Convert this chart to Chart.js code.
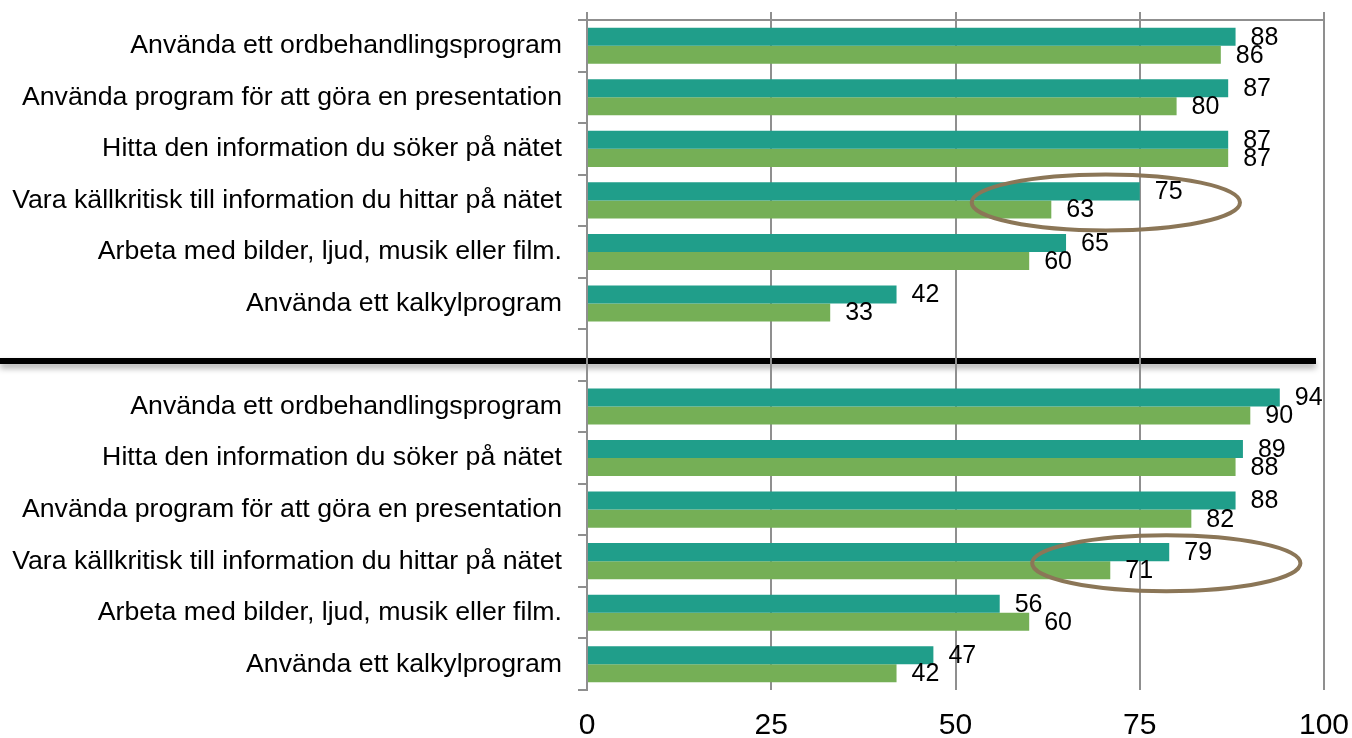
<!DOCTYPE html>
<html>
<head>
<meta charset="utf-8">
<script src="https://cdn.jsdelivr.net/npm/chart.js@4/dist/chart.umd.min.js"></script>
<style>
  html, body { margin: 0; padding: 0; background: #fff; }
  #wrap { position: relative; width: 1352px; height: 738px; }
</style>
</head>
<body>
<div id="wrap"><canvas id="chart"></canvas></div>
<script>
// Upper group
const topCategories = [
  "Använda ett ordbehandlingsprogram",
  "Använda program för att göra en presentation",
  "Hitta den information du söker på nätet",
  "Vara källkritisk till information du hittar på nätet",
  "Arbeta med bilder, ljud, musik eller film.",
  "Använda ett kalkylprogram"
];
const topSeriesA = [88, 87, 87, 75, 65, 42];
const topSeriesB = [86, 80, 87, 63, 60, 33];

// Lower group
const bottomCategories = [
  "Använda ett ordbehandlingsprogram",
  "Hitta den information du söker på nätet",
  "Använda program för att göra en presentation",
  "Vara källkritisk till information du hittar på nätet",
  "Arbeta med bilder, ljud, musik eller film.",
  "Använda ett kalkylprogram"
];
const bottomSeriesA = [94, 89, 88, 79, 56, 47];
const bottomSeriesB = [90, 88, 82, 71, 60, 42];

const xTicks = [0, 25, 50, 75, 100];

// circled rows: [x value of centre, row index in the combined list]
const circles = [[70.4, 3], [78.6, 10]];

// combined axis: top group, empty separator row, bottom group
const labels = [...topCategories, "", ...bottomCategories];
const valuesA = [...topSeriesA, null, ...bottomSeriesA];
const valuesB = [...topSeriesB, null, ...bottomSeriesB];
const sepIndex = topCategories.length;

const GRID = "#8f8f8f";
Chart.defaults.font.family = "'Liberation Sans', Arial, sans-serif";

// thick separator line with soft shadow, under the grid
const separator = {
  id: "separator",
  beforeDraw(chart) {
    const ctx = chart.ctx, y = chart.scales.y.getPixelForValue(sepIndex) + 6;
    ctx.save();
    ctx.shadowColor = "rgba(0,0,0,0.35)";
    ctx.shadowBlur = 6;
    ctx.shadowOffsetY = 4;
    ctx.fillStyle = "#000";
    ctx.fillRect(0, y - 3, chart.chartArea.right - 8, 6);
    ctx.restore();
  }
};

// value labels right of each bar
const valueLabels = {
  id: "valueLabels",
  afterDatasetsDraw(chart) {
    const ctx = chart.ctx;
    ctx.save();
    ctx.font = "25px 'Liberation Sans', Arial, sans-serif";
    ctx.fillStyle = "#000";
    ctx.textAlign = "left";
    ctx.textBaseline = "middle";
    chart.data.datasets.forEach((ds, di) => {
      chart.getDatasetMeta(di).data.forEach((bar, i) => {
        if (ds.data[i] == null) return;
        ctx.fillText(String(ds.data[i]), bar.x + 15, bar.y + 1);
      });
    });
    ctx.restore();
  }
};

// brown ellipses around the source-criticism rows
const ellipses = {
  id: "ellipses",
  afterDraw(chart) {
    const ctx = chart.ctx, x = chart.scales.x, y = chart.scales.y;
    ctx.save();
    ctx.strokeStyle = "#8b7657";
    ctx.lineWidth = 4;
    circles.forEach(([v, idx]) => {
      const cx = x.getPixelForValue(v);
      const rx = x.getPixelForValue(v + 18.2) - cx;
      const cy = y.getPixelForValue(idx) + 2;
      ctx.beginPath();
      ctx.ellipse(cx, cy, rx, 28, 0, 0, Math.PI * 2);
      ctx.stroke();
    });
    ctx.restore();
  }
};

const noPad = s => { s.paddingLeft = 0; s.paddingRight = 0; s.paddingTop = 0; s.paddingBottom = 0; };

new Chart(document.getElementById("chart"), {
  type: "bar",
  data: {
    labels,
    datasets: [
      { data: valuesA, backgroundColor: "#209e8a", xAxisID: "x" },
      { data: valuesB, backgroundColor: "#75af56", xAxisID: "x" }
    ]
  },
  options: {
    indexAxis: "y",
    responsive: true,
    maintainAspectRatio: false,
    animation: false,
    categoryPercentage: 0.7,
    barPercentage: 1.0,
    layout: { padding: { top: 12, right: 28, left: 0, bottom: 0 } },
    plugins: { legend: { display: false }, tooltip: { enabled: false } },
    scales: {
      x: {
        position: "top",
        min: 0, max: 100,
        afterBuildTicks: s => { s.ticks = xTicks.map(v => ({ value: v })); },
        ticks: { display: false },
        grid: { color: GRID, lineWidth: 2, tickLength: 8 },
        border: { color: GRID, width: 2 },
        afterFit: s => { s.height = 8; noPad(s); }
      },
      x2: {
        position: "bottom",
        type: "linear",
        min: 0, max: 100,
        afterBuildTicks: s => { s.ticks = xTicks.map(v => ({ value: v })); },
        ticks: { font: { size: 30 }, color: "#000", padding: 18, maxRotation: 0 },
        grid: { display: false, drawTicks: false },
        border: { display: false },
        afterFit: s => { s.height = 48; noPad(s); }
      },
      y: {
        ticks: { font: { size: 26.7 }, color: "#000", padding: 16, autoSkip: false },
        grid: { drawOnChartArea: false, color: GRID, lineWidth: 2, tickLength: 9, offset: true },
        border: { color: GRID, width: 2 },
        afterFit: s => { s.width = 587; noPad(s); }
      }
    }
  },
  plugins: [separator, valueLabels, ellipses]
});
</script>
</body>
</html>
